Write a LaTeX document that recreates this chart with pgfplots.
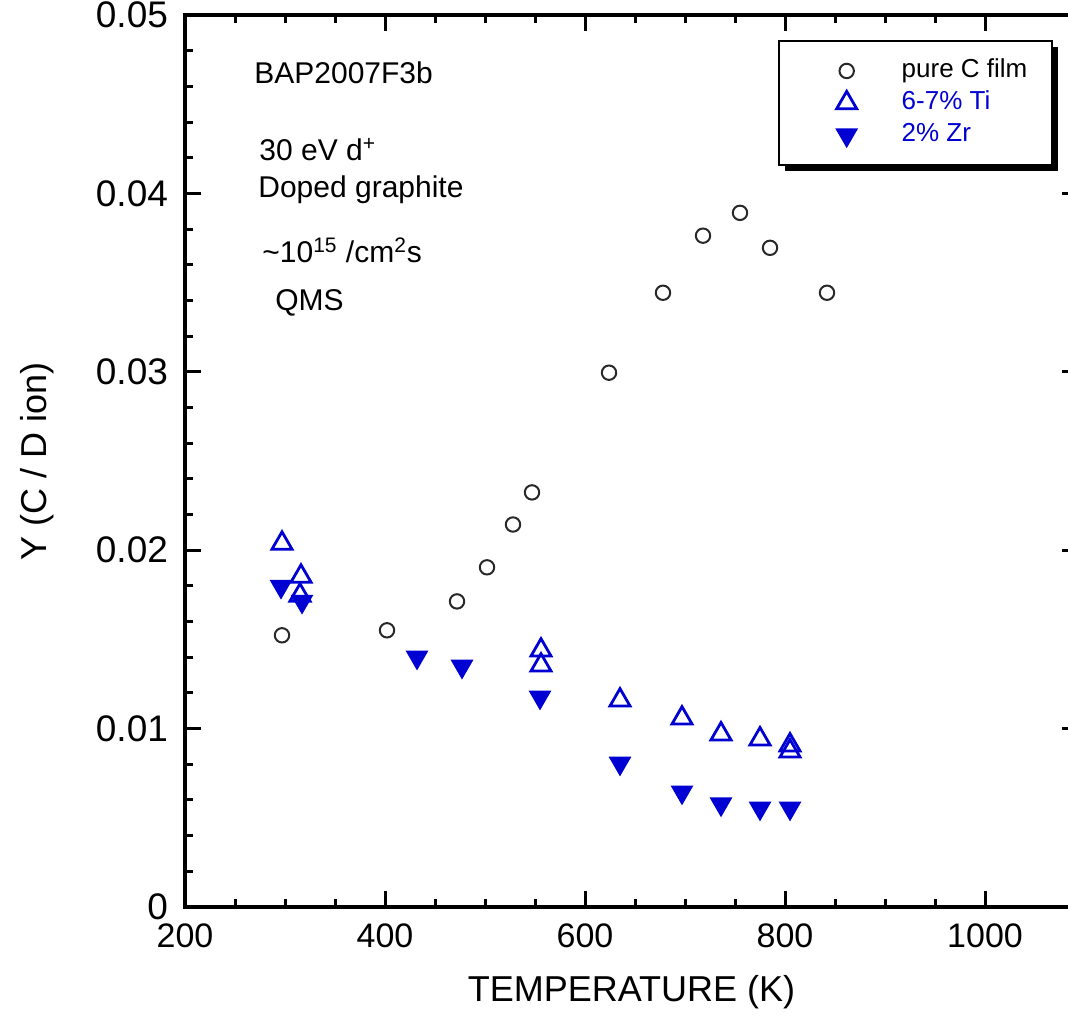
\documentclass[border=0pt]{standalone}
\usepackage{fontspec}
\setmainfont{Liberation Sans}
\usepackage{pgfplots}
\pgfplotsset{compat=1.18}
\usetikzlibrary{shadows}
\definecolor{myblue}{RGB}{0,0,210}
\definecolor{circgray}{RGB}{40,40,40}

\begin{document}
\begin{tikzpicture}
\useasboundingbox (-92.5pt,-54.5pt) rectangle (441.5pt,453.5pt);
\begin{axis}[
 scale only axis, width=446.5pt, height=446pt,
 xmin=200, xmax=1093, ymin=0, ymax=0.05,
 xtick={200,400,600,800,1000},
 xticklabels={200,400,600,800,1000},
 ytick={0,0.01,0.02,0.03,0.04,0.05},
 yticklabels={0,0.01,0.02,0.03,0.04,0.05},
 minor x tick num=3, minor y tick num=4,
 tick align=inside,
 major tick length=8pt, minor tick length=4pt,
 axis line style={line width=2pt},
 every tick/.style={black, line width=1.5pt},
 scaled y ticks=false,
 /pgf/number format/assume math mode=true,
 xticklabel style={font=\fontsize{17}{17}\selectfont, yshift=-5pt},
 yticklabel style={font=\fontsize{18.5}{18.5}\selectfont, xshift=-5pt},
 xlabel={TEMPERATURE (K)}, ylabel={Y (C / D ion)},
 label style={font=\fontsize{18}{18}\selectfont},
 xlabel style={at={(axis description cs:0.5,-0.095)}, anchor=center},
 ylabel style={at={(axis description cs:-0.165,0.5)}, anchor=center},
 legend cell align=left,
 legend image code/.code={%
   \pgfpathmoveto{\pgfqpoint{-23pt}{0pt}}\pgfpathlineto{\pgfqpoint{6pt}{0pt}}\pgfusepath{discard}%
   \draw[#1] plot coordinates {(0pt,0pt)};},
 legend style={
   at={(rel axis cs:0.6637,0.972)}, anchor=north west,
   draw=black, line width=1pt, fill=white,
   drop shadow={shadow xshift=3pt, shadow yshift=-3pt, fill=black, opacity=1},
   font=\fontsize{13}{15}\selectfont,
   inner xsep=11pt, inner ysep=7pt,
   row sep=0pt, column sep=20pt,
   nodes={inner sep=1.5pt, text height=10pt, text depth=3pt},
 },
]
\addplot[only marks, mark=o, mark size=3.6pt, circgray, mark options={line width=1pt}] coordinates {
(297,0.01523) (402,0.01551) (472,0.01713) (502,0.01904) (528,0.02144) (547,0.02324)
(624,0.02995) (678,0.03443) (718,0.03763) (755,0.03891) (785,0.03695) (842,0.03443)
};
\addlegendentry{pure C film}
\addplot[only marks, mark=triangle, mark size=5.8pt, myblue, mark options={line width=1.4pt}] coordinates {
(297,0.02038) (316,0.01853) (315,0.01747) (556,0.01439) (556,0.01355) (635,0.01159)
(697,0.01058) (736,0.00969) (775,0.00941) (805,0.00907) (805,0.00873)
};
\addlegendentry{\textcolor{myblue}{6-7\% Ti}}
\addplot[only marks, mark=triangle*, mark size=5.8pt, myblue, mark options={rotate=180, fill=myblue, line width=0.8pt}] coordinates {
(296,0.01797) (317,0.01713) (432,0.0140) (477,0.01349) (555,0.01176) (635,0.00806)
(697,0.00644) (736,0.00577) (775,0.00554) (805,0.00554)
};
\addlegendentry{\textcolor{myblue}{2\% Zr}}
\begin{scope}[every node/.style={anchor=base west, font=\fontsize{15}{15}\selectfont, inner sep=0pt}]
\node at (axis cs:269,0.04614) {BAP2007F3b};
\node at (axis cs:274,0.04183) {30 eV d\textsuperscript{+}};
\node at (axis cs:273,0.03975) {Doped graphite};
\node at (axis cs:277,0.03611) {\textasciitilde 10\textsuperscript{15} /cm\textsuperscript{2}s};
\node at (axis cs:290,0.03343) {QMS};
\end{scope}
\end{axis}
\end{tikzpicture}
\end{document}
